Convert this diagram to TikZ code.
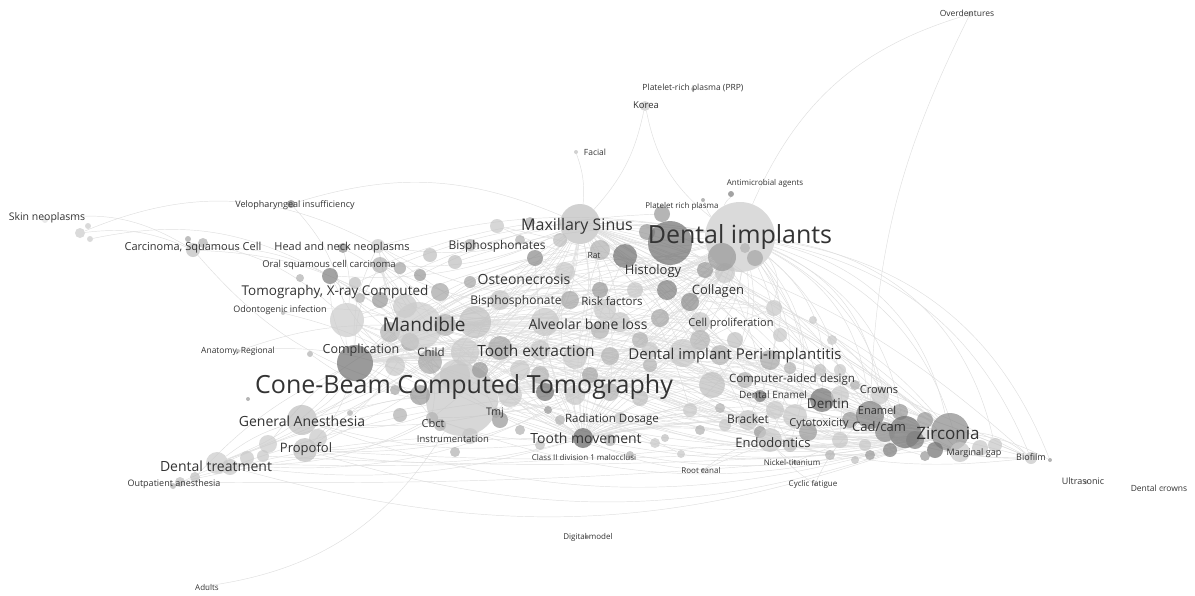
\documentclass[tikz,border=0pt]{standalone}
\usepackage{fontspec}
\setmainfont{Open Sans}
\pgfdeclarelayer{bg}
\pgfsetlayers{bg,main}
\begin{document}
\begin{tikzpicture}[x=1pt, y=-1pt,
		bubble/.style={circle, draw=none, inner sep=0pt, fill opacity=.72},
		link/.style={draw=black!13, line width=.45pt},
		tag/.style={font=\fontsize{#1}{#1}\selectfont, text=black!80, inner sep=0pt}]

		\useasboundingbox (0,0) rectangle (1195,595);

		% terms: name/x/y/radius/darkness
		\foreach \n/\x/\y/\r/\g in {
		skinA/80/233/5/20, skinB/88/226/3/20, skinC/90/239/3/20, skinD/45/220/3/12,
		carcA/193/250/7/25, carcB/203/243/5/30, carcC/188/239/3/35,
		velo/291/204/4/50, headA/343/248/5/45, headB/378/246/7/20,
		oralA/330/276/8/50, oralB/300/278/4/30, oralC/355/283/6/25,
		odon/283/313/2/30, anatA/238/351/2/30, anatB/310/354/3/30,
		korea/645/106/5/20, prp/693/89/2/30, facial/576/152/2/25, overd/970/14/3/20,
		antiA/731/194/3/50, antiB/703/200/2/40, digital/587/537/2/50, adults/207/586/1/30,
		ultra/1086/482/2/35, dcrown/1162/488/1/40, biofA/1031/458/6/22, biofB/1050/460/2/40,
		genan/302/420/15/25, propA/305/450/12/25, propB/318/438/9/22, propC/268/444/9/20,
		propD/263/456/6/22, dtA/217/463/11/20, dtB/230/467/8/22, dtF/247/458/7/22,
		dtC/195/477/5/25, dtD/180/482/5/25, dtE/173/486/3/30, genB/350/413/3/30, genC/248/399/2/40,
		tomog/347/320/17/20, tomB/380/300/8/40, tomC/390/332/10/30, tomD/405/306/12/22, tomE/360/298/5/30,
		compl/355/363/18/55, complB/395/366/10/22, complC/410/342/9/35,
		mand/418/326/24/20, mandX/475/322/16/25, mandB/440/292/9/35, mandC/455/262/7/25, mandD/470/282/6/35,
		mandE/500/300/10/22, mandF/420/275/6/40, mandG/445/325/11/30,
		childA/430/362/12/35, childB/465/352/14/22, childC/500/348/12/35,
		cone/462/400/36/22, coneB/420/395/10/40, coneC/510/395/12/22, coneD/545/392/9/55,
		coneE/575/395/10/22, coneF/500/420/8/40, coneG/440/425/6/30, coneH/470/436/8/22,
		coneI/520/430/5/30, coneJ/560/420/5/30, coneK/395/390/5/35, coneL/455/375/15/22,
		coneM/400/415/7/30, coneN/455/452/5/30, coneO/540/445/5/25, coneP/480/370/8/40,
		cbct/432/418/6/30, tmj/496/413/5/35,
		raddA/610/392/9/30, raddB/640/398/8/25, raddC/620/418/6/22,
		tmov/583/438/10/60, tmovB/655/443/5/22, tmovC/665/438/4/25, tmovD/548/410/4/40,
		tmovE/610/440/6/30, tmovF/630/455/4/30,
		ostA/497/226/7/22, ostB/535/258/8/45, ostC/565/272/10/22, ostD/570/300/9/35,
		ostE/545/322/14/22, ostF/400/268/6/35, ostG/520/240/5/30, ostH/380/265/8/30,
		ostI/430/255/7/25, ostJ/470/245/6/30, ostK/560/240/7/25,
		riskA/600/290/8/40, riskB/635/290/8/22, riskC/620/322/10/22, riskD/600/330/9/30,
		riskE/600/250/10/30, riskF/605/310/11/22,
		albA/540/350/10/22, albB/575/357/12/22, albC/610/356/9/30, albD/520/370/10/22,
		albE/540/375/9/30, albF/590/375/8/35,
		sinus/580/224/20/25, sinB/530/222/5/30,
		histA/625/256/12/55, histB/647/232/8/40, histC/662/214/8/40,
		impD/670/243/22/55, implants/740/237/35/20, impB/755/258/8/35, impC/745/248/5/30,
		impE/725/273/10/22, impF/705/270/8/40, impG/722/257/14/40,
		collA/667/290/10/50, collB/690/302/9/45, collC/660/318/9/35, collD/700/322/10/22,
		collE/774/308/8/22, collF/813/320/4/22, collG/832/340/5/22, collH/640/340/8/30,
		collI/700/340/10/30, collJ/735/340/8/25, collK/780/335/7/22,
		periA/683/353/14/22, periB/720/355/10/30, periC/770/360/10/35, periD/790/368/6/30,
		periE/650/365/7/30, periF/650/350/8/22,
		caid/712/385/13/25, caidB/745/380/8/30, caidC/760/396/6/55, caidD/775/410/9/22,
		caidE/690/410/7/22, caidF/700/430/5/30, caidG/820/370/6/25, caidH/840/370/6/22, caidI/855/385/5/30,
		brack/748/420/10/22, brackB/725/425/6/22, brackC/720/408/5/30, brackD/760/432/6/40,
		cytoA/795/416/12/22, dentin/822/400/12/55, cytoB/808/432/9/40, dentB/840/395/9/22, dentC/850/420/8/40,
		cadA/870/415/14/50, crownA/880/395/9/22, cadB/900/412/8/40, cadC/905/432/16/55, cadD/925/420/8/40,
		cadE/885/432/10/45, cadF/915/440/9/50,
		zirc/950/432/19/45, zircB/935/450/8/55, zircC/960/452/10/22, zircD/980/448/8/22, zircE/995/445/7/22,
		endo/770/440/12/22, endoB/840/440/8/22, endoC/865/445/6/22, endoD/890/450/7/50, endoE/925/456/5/40,
		endoF/790/445/7/25, endoG/830/455/5/30, endoH/855/460/4/25, endoI/870/455/5/40,
		nick/795/462/2/40, cyclic/815/484/1.5/40, root/703/470/2/40, rootB/681/454/4/22}
		\node[bubble, fill=black!\g, minimum size=\r*2pt] (\n) at (\x,\y) {};

		% co-occurrence links
		\begin{pgfonlayer}{bg}
		\foreach \h/\k in {cone/16, implants/28, mand/14, zirc/18, sinus/14, tmov/12, compl/14}
		\foreach \t in {tomog, genan, propA, dtA, endo, caid, brack, dentin, cadA, cadC, periA,
			periC, collA, collD, histA, ostB, ostC, ostE, riskA, riskC, albA, albB, childB, coneC,
			coneE, raddA, cbct, tmj, oralA, headB, biofA, crownA, cytoA, endoB, zircC, impE, collE,
			impG, mandX, albD, caidE, endoF, ostH, riskE}
		\draw[link] (\h) to[bend left=\k] (\t);

		\foreach \a/\b/\k in {
		cone/mand/15, cone/compl/15, cone/implants/15, cone/sinus/15, cone/zirc/-12, cone/tmov/15,
		cone/adults/25, cone/carcA/18, cone/anatB/15, cone/dentin/-12,
		implants/zirc/32, implants/overd/25, implants/korea/20, implants/antiA/15,
		implants/sinus/15, implants/mand/12, implants/tmov/12, implants/compl/12, implants/ostA/20,
		implants/antiB/10, implants/zircE/35, implants/endoD/30, implants/biofB/30,
		zirc/root/-15, zirc/nick/-12, zirc/biofB/10, overd/cadA/-12,
		skinA/carcA/15, skinA/headB/25, skinD/carcA/20, skinC/oralA/20, carcA/oralA/15,
		carcA/mand/15, carcB/tomog/15, headA/mand/15, headA/tomog/10,
		velo/tomog/15, velo/sinus/20, korea/sinus/15, facial/sinus/12,
		dtE/cone/8, dtA/genan/10, dtC/compl/10, dtD/tmov/6, dtA/endo/-4, propA/zirc/-5, dtB/raddA/8,
		propB/implants/12, propC/mand/12, genan/caid/8, dtC/coneH/6, dtD/zircB/-3, propD/endoG/-3,
		tmov/brack/12, tmov/zirc/-12, endo/cadA/12, endo/biofA/-10, biofA/dentin/15, biofA/cadC/12,
		nick/endo/10, cyclic/endo/10, cyclic/cadA/12, root/endo/12,
		root/tmov/10, odon/mand/12, odon/cone/10, anatA/cone/15, anatA/mand/10,
		histA/zirc/15, collA/zirc/12, caid/crownA/15, dentin/cadC/15, brack/zirc/-10,
		endo/endoE/10, periA/zirc/12, collE/zirc/15, collG/cadA/12, collF/cadC/12,
		cone/tmovB/10, cone/rootB/12, mand/coneE/12, genB/cone/10, tomog/implants/10,
		tomog/cone/8, oralA/cone/12, headB/implants/12, ostA/zirc/12, mandC/implants/12,
		riskE/zirc/10, impG/cadA/12, impB/dentin/12, impE/endo/10, collI/zirc/10, periB/cadC/10,
		ostH/implants/15, tomE/implants/18, oralC/implants/16, mandF/histC/12}
		\draw[link] (\a) to[bend left=\k] (\b);
		\end{pgfonlayer}

		% labels
		\node[tag=25] (tcone) at (464,387) {Cone-Beam Computed Tomography};
		\node[tag=25] (timpl) at (740,237) {Dental implants};
		\node[tag=19] (tmand) at (424,324) {Mandible};
		\node[tag=16] (tsinus) at (577,226) {Maxillary Sinus};
		\node[tag=15.5] (textr) at (536,351) {Tooth extraction};
		\node[tag=17] (tzirc) at (948,433) {Zirconia};
		\node[tag=15] (tperi) at (735,356) {Dental implant Peri-implantitis};
		\node[tag=14] (tgenan) at (302,421) {General Anesthesia};
		\node[tag=14] (tdtreat) at (216,466) {Dental treatment};
		\node[tag=14] (ttmov) at (586,438) {Tooth movement};
		\node[tag=14] (talb) at (588,324) {Alveolar bone loss};
		\node[tag=14] (tost) at (524,279) {Osteonecrosis};
		\node[tag=13.5] (ttomog) at (335,292) {Tomography, X-ray Computed};
		\node[tag=13] (thist) at (653,271) {Histology};
		\node[tag=13] (tcoll) at (718,291) {Collagen};
		\node[tag=12.5] (tcompl) at (361,350) {Complication};
		\node[tag=13] (tprop) at (306,449) {Propofol};
		\node[tag=13] (tendo) at (773,443) {Endodontics};
		\node[tag=13.5] (tdentin) at (828,404) {Dentin};
		\node[tag=13] (tcad) at (879,427) {Cad/cam};
		\node[tag=12] (tbisp) at (516,301) {Bisphosphonate};
		\node[tag=12] (tbisps) at (497,246) {Bisphosphonates};
		\node[tag=11.5] (trisk) at (612,301) {Risk factors};
		\node[tag=11] (tcell) at (731,324) {Cell proliferation};
		\node[tag=11.5] (tchild) at (431,352) {Child};
		\node[tag=11.5] (tcaid) at (792,380) {Computer-aided design};
		\node[tag=11] (tcrowns) at (879,390) {Crowns};
		\node[tag=11] (tenamel) at (877,410) {Enamel};
		\node[tag=12] (tbrack) at (748,419) {Bracket};
		\node[tag=11] (tcyto) at (819,424) {Cytotoxicity};
		\node[tag=11.5] (trad) at (612,420) {Radiation Dosage};
		\node[tag=11] (tcbct) at (433,423) {Cbct};
		\node[tag=10.5] (ttmj) at (495,413) {Tmj};
		\node[tag=10] (tdenam) at (773,395) {Dental Enamel};
		\node[tag=11] (tcarc) at (193,248) {Carcinoma, Squamous Cell};
		\node[tag=11] (thead) at (342,248) {Head and neck neoplasms};
		\node[tag=10.5] (tskin) at (47,218) {Skin neoplasms};
		\node[tag=9] (tvelo) at (295,205) {Velopharyngeal insufficiency};
		\node[tag=9.5] (toral) at (329,265) {Oral squamous cell carcinoma};
		\node[tag=9] (todon) at (280,310) {Odontogenic infection};
		\node[tag=8.5] (tanat) at (238,351) {Anatomy, Regional};
		\node[tag=9.5] (tinstr) at (453,439) {Instrumentation};
		\node[tag=8] (tclass) at (584,457) {Class II division 1 malocclusi};
		\node[tag=8] (tnick) at (792,462) {Nickel-titanium};
		\node[tag=8] (troot) at (701,470) {Root canal};
		\node[tag=8] (tcyclic) at (813,484) {Cyclic fatigue};
		\node[tag=8] (tdigit) at (588,537) {Digital model};
		\node[tag=8] (tadults) at (207,587) {Adults};
		\node[tag=9] (toutp) at (174,484) {Outpatient anesthesia};
		\node[tag=9] (tmarg) at (974,453) {Marginal gap};
		\node[tag=9] (tbiof) at (1031,457) {Biofilm};
		\node[tag=9] (tultra) at (1083,481) {Ultrasonic};
		\node[tag=8.5] (tdcrown) at (1159,488) {Dental crowns};
		\node[tag=8.5] (toverd) at (967,13) {Overdentures};
		\node[tag=8.5] (tprp) at (693,88) {Platelet-rich plasma (PRP)};
		\node[tag=9.5] (tkorea) at (646,105) {Korea};
		\node[tag=8.5] (tfacial) at (595,152) {Facial};
		\node[tag=8] (tanti) at (765,183) {Antimicrobial agents};
		\node[tag=8] (tprich) at (682,206) {Platelet rich plasma};
		\node[tag=8.5] (trat) at (594,256) {Rat};
\end{tikzpicture}
\end{document}
